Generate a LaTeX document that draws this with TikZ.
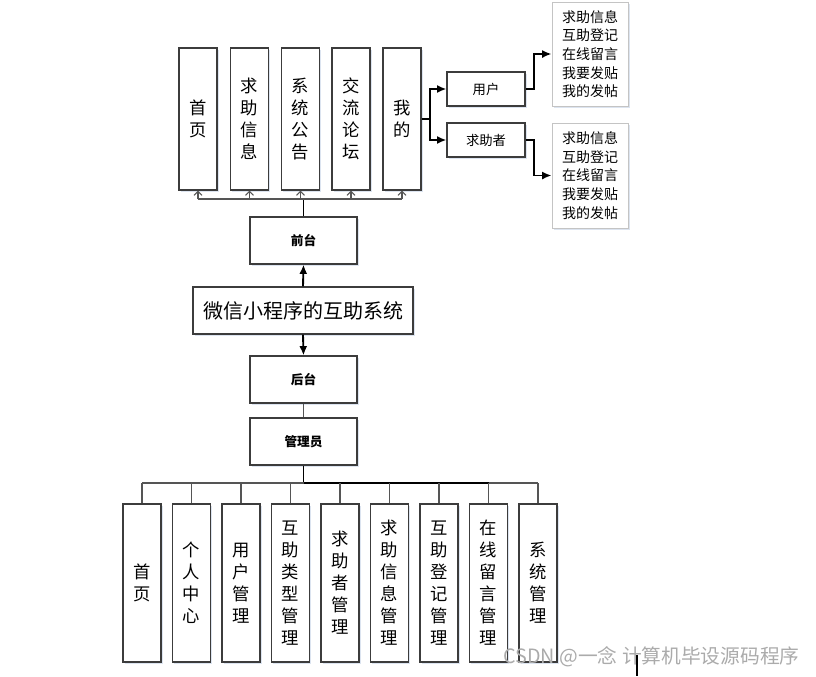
\documentclass[tikz,border=0pt]{standalone}
\usepackage{fontspec}
\setmainfont{Noto Sans CJK SC}
\usepackage{tikz}
\usetikzlibrary{arrows.meta, positioning, calc, shadows}
\definecolor{boxline}{HTML}{3C3C3C}
\definecolor{busgray}{HTML}{555555}
\definecolor{listline}{HTML}{C4C4C4}
\definecolor{shadowblue}{HTML}{D3DDEC}
\definecolor{marktext}{HTML}{ABABAB}

\tikzset{
  box/.style={draw=boxline, line width=0.85pt, fill=white, inner sep=0pt,
    drop shadow={fill=shadowblue, opacity=0.8, shadow xshift=1.3pt, shadow yshift=-1.3pt}},
  colbox/.style={box, minimum width=28.5pt, align=center, font=\fontsize{13}{16.5}\selectfont},
  midbox/.style={box, minimum width=80.25pt, minimum height=35.25pt, font=\bfseries\fontsize{9.5}{11}\selectfont},
  rolebox/.style={box, minimum width=58.5pt, minimum height=25.5pt, font=\fontsize{10}{12}\selectfont},
  listbox/.style={box, draw=listline, line width=0.7pt, minimum width=57pt, align=center,
    font=\fontsize{10.5}{14}\selectfont},
  trunk/.style={line width=1.4pt, black},
  busline/.style={line width=0.8pt, busgray},
}

\begin{document}
\begin{tikzpicture}[x=0.75pt, y=-0.75pt, >={Latex[length=7pt,width=6pt]}]
  \useasboundingbox (0,0) rectangle (816,676);
  % front end
  \foreach \i/\x/\t in {1/198/{首\\页}, 2/249.5/{求\\助\\信\\息}, 3/300.5/{系\\统\\公\\告},
                        4/351/{交\\流\\论\\坛}, 5/402/{我\\的}}
    \node[colbox, minimum height=106.5pt] (top\i) at (\x,119) {\t};
  \node[midbox] (front) at (303.5,240.5) {前台};
  \node[box, minimum width=165pt, minimum height=35.25pt, font=\fontsize{15}{18}\selectfont] (sys) at (303,310.5) {微信小程序的互助系统};
  \node[midbox] (back) at (303.5,379.5) {后台};
  \node[midbox] (admin) at (303.5,441.5) {管理员};
  % roles under 我的
  \node[rolebox] (user) at (486,89) {用户};
  \node[rolebox] (helper) at (486,140) {求助者};
  \node[listbox, minimum height=78pt] (userList) at (590,54) {求助信息\\互助登记\\在线留言\\我要发贴\\我的发帖};
  \node[listbox, minimum height=78.75pt] (helperList) at (590,175.5) {求助信息\\互助登记\\在线留言\\我要发贴\\我的发帖};
  % back end
  \foreach \i/\x/\t in {1/142/{首\\页}, 2/191.5/{个\\人\\中\\心}, 3/241/{用\\户\\管\\理},
                        4/290.5/{互\\助\\类\\型\\管\\理}, 5/340/{求\\助\\者\\管\\理},
                        6/389.5/{求\\助\\信\\息\\管\\理}, 7/439/{互\\助\\登\\记\\管\\理},
                        8/488.5/{在\\线\\留\\言\\管\\理}, 9/538/{系\\统\\管\\理}}
    \node[colbox, minimum height=118.5pt] (bot\i) at (\x,583) {\t};

  % connectors, top
  \coordinate (topBus) at (303.5,199);
  \draw[trunk] (front.north) -- (topBus);
  \draw[busline] (top1.south |- topBus) -- (top5.south |- topBus);
  \foreach \i in {1,...,5}
    \draw[busline, -{Straight Barb[length=3pt,width=6pt]}] (top\i.south |- topBus) -- (top\i.south);
  \draw[trunk] (top5.east) -- ++(8,0) coordinate (myBr);
  \draw[trunk, ->] (myBr) |- (user.west);
  \draw[trunk, ->] (myBr) |- (helper.west);
  \draw[trunk, ->] (user.east) -- ++(8,0) |- (userList.west);
  \draw[trunk, ->] (helper.east) -- ++(8,0) |- (helperList.west);
  % connectors, middle
  \draw[trunk, ->] (sys.north) -- (front.south);
  \draw[trunk, ->] (sys.south) -- (back.north);
  \draw[busline] (back.south) -- (admin.north);
  % connectors, bottom
  \coordinate (botBus) at (303.5,483);
  \draw[trunk] (admin.south) -- (botBus);
  \draw[busline] (bot1.north |- botBus) -- (bot9.north |- botBus);
  \draw[line width=1.1pt] (botBus) -- (bot8.north |- botBus);
  \foreach \i in {1,...,9}
    \draw[busline] (bot\i.north |- botBus) -- (bot\i.north);

  % watermark
  \node[font=\fontsize{14.8}{17}\selectfont, text=marktext] (mark) at (651.5,657) {CSDN @一念 计算机毕设源码程序};
  \draw[line width=1.4pt] (637,655) -- (637,676);
\end{tikzpicture}
\end{document}
